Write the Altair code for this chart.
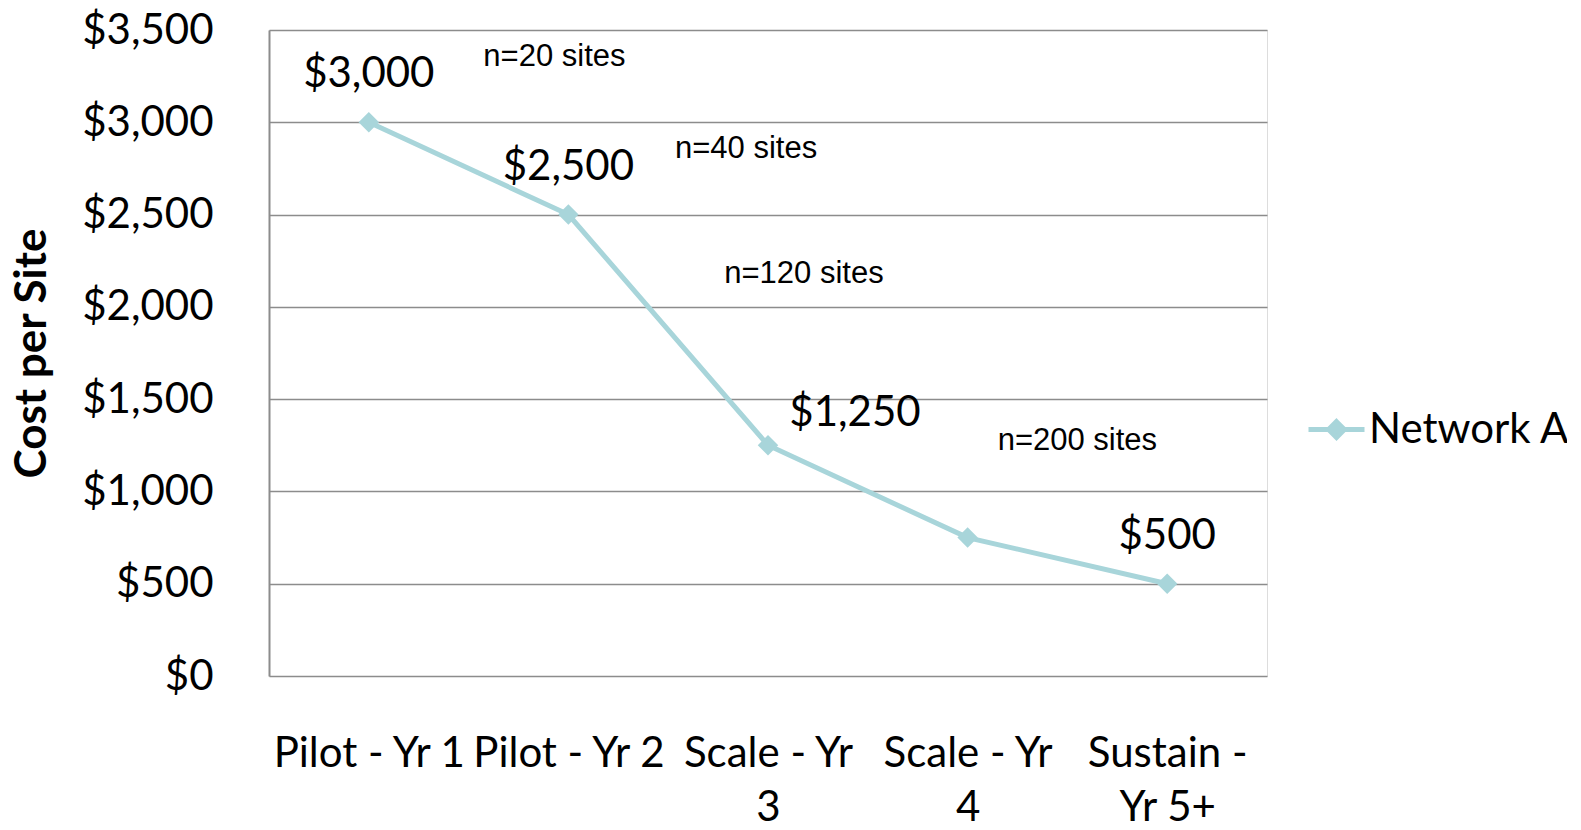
import json
import altair as alt
import pandas as pd

categories = ["Pilot - Yr 1", "Pilot - Yr 2", "Scale - Yr 3", "Scale - Yr 4", "Sustain - Yr 5+"]
category_lines = [["Pilot - Yr 1"], ["Pilot - Yr 2"], ["Scale - Yr", "3"], ["Scale - Yr", "4"], ["Sustain -", "Yr 5+"]]
costs = [3000, 2500, 1250, 750, 500]
series_name = "Network A"
labels_above = ["Pilot - Yr 1", "Pilot - Yr 2", "Sustain - Yr 5+"]
labels_right = ["Scale - Yr 3"]

notes = ["n=20 sites", "n=40 sites", "n=120 sites", "n=200 sites"]
note_pos = [0.93, 1.89, 2.18, 3.55]
note_cost = [3356, 2855, 2178, 1275]

df = pd.DataFrame({
    "pos": list(range(len(categories))),
    "category": categories,
    "cost": costs,
    "series": [series_name] * len(categories),
})
notes_df = pd.DataFrame({"note": notes, "pos": note_pos, "cost": note_cost})

LINE_COLOR = "#A8D5DA"
GRID = "#8C8C8C"
FONT = "Lato"

x_axis = alt.Axis(
    values=list(range(len(categories))),
    labelExpr=json.dumps(category_lines) + "[datum.value]",
    title=None, grid=False, domain=False, ticks=False,
    labelFont=FONT, labelFontSize=42, labelColor="black", labelLimit=0,
    labelPadding=57, labelLineHeight=54, labelAngle=0, labelOverlap=False,
)
y_axis = alt.Axis(
    values=[0, 500, 1000, 1500, 2000, 2500, 3000, 3500],
    format="$,.0f", title="Cost per Site",
    grid=True, gridColor=GRID, gridWidth=1.5,
    domain=True, domainColor=GRID, domainWidth=2,
    ticks=False, labelFont=FONT, labelFontSize=42, labelColor="black",
    labelPadding=56, labelLimit=0,
    titleFont=FONT, titleFontSize=44, titleFontWeight="bold", titleColor="black",
    titleAngle=270, titleX=-237, titleY=323, titleAlign="center", titleBaseline="middle",
)

x = alt.X("pos:Q", scale=alt.Scale(domain=[-0.5, 4.5], nice=False, zero=False), axis=x_axis)
y = alt.Y("cost:Q", scale=alt.Scale(domain=[0, 3500], nice=False), axis=y_axis)

line = alt.Chart(df).mark_line(
    strokeWidth=5,
    point=alt.OverlayMarkDef(filled=True, shape="diamond", size=420, color=LINE_COLOR),
).encode(
    x=x, y=y,
    color=alt.Color("series:N", scale=alt.Scale(range=[LINE_COLOR]),
                    legend=alt.Legend(
                        title=None, orient="none", legendX=1037, legendY=369,
                        symbolType="M-1,0L1,0M0,-0.28L0.28,0L0,0.28L-0.28,0Z",
                        symbolSize=3136, symbolStrokeWidth=5,
                        symbolFillColor=LINE_COLOR, symbolStrokeColor=LINE_COLOR,
                        labelFont=FONT, labelFontSize=42, labelColor="black",
                        labelOffset=2, padding=0, labelLimit=0,
                    )),
)

lab_above = alt.Chart(df).transform_filter(
    alt.FieldOneOfPredicate(field="category", oneOf=labels_above)
).mark_text(font=FONT, fontSize=42, color="black", baseline="middle", align="center", dy=-48).encode(
    x=x, y=y, text=alt.Text("cost:Q", format="$,.0f"))

lab_right = alt.Chart(df).transform_filter(
    alt.FieldOneOfPredicate(field="category", oneOf=labels_right)
).mark_text(font=FONT, fontSize=42, color="black", baseline="middle", align="center", dx=87, dy=-32).encode(
    x=x, y=y, text=alt.Text("cost:Q", format="$,.0f"))

note_layer = alt.Chart(notes_df).mark_text(
    font="Liberation Sans", fontSize=31, color="black", baseline="middle", align="center"
).encode(x=x, y=y, text="note:N")

chart = alt.layer(line, lab_above, lab_right, note_layer).properties(
    width=998, height=646,
    autosize=alt.AutoSizeParams(type="none"),
    padding={"left": 261, "top": 22, "right": 300, "bottom": 154},
).configure_view(stroke=None).configure(background="white")

chart.save("out.html", embed_options={"renderer": "svg", "actions": False})
